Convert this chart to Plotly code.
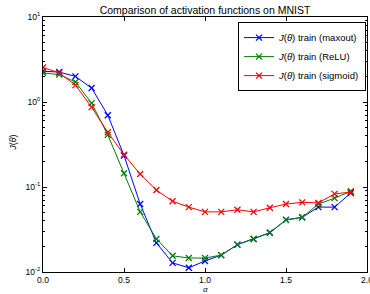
import plotly.graph_objects as go

alpha = [0.0, 0.1, 0.2, 0.3, 0.4, 0.5, 0.6, 0.7, 0.8, 0.9,
         1.0, 1.1, 1.2, 1.3, 1.4, 1.5, 1.6, 1.7, 1.8, 1.9]

j_maxout = [2.3, 2.25, 2.0, 1.46, 0.70, 0.235, 0.063, 0.022, 0.0128, 0.0112,
            0.0135, 0.0158, 0.021, 0.0245, 0.029, 0.041, 0.044, 0.058, 0.058, 0.085]
j_relu = [2.2, 2.1, 1.72, 0.97, 0.41, 0.145, 0.051, 0.0245, 0.0155, 0.0146,
          0.0146, 0.0158, 0.021, 0.0245, 0.029, 0.041, 0.044, 0.063, 0.074, 0.089]
j_sigmoid = [2.55, 2.2, 1.58, 0.87, 0.44, 0.24, 0.142, 0.092, 0.068, 0.058,
             0.051, 0.051, 0.054, 0.051, 0.057, 0.063, 0.066, 0.065, 0.083, 0.087]

series_names = ["<i>J</i>(<i>θ</i>) train (maxout)",
                "<i>J</i>(<i>θ</i>) train (ReLU)",
                "<i>J</i>(<i>θ</i>) train (sigmoid)"]
series_vals = [j_maxout, j_relu, j_sigmoid]
colors = ["#0000ff", "#008000", "#ff0000"]

x_tickvals = [0, 0.5, 1.0, 1.5, 2.0]
x_ticktext = ["0.0", "0.5", "1.0", "1.5", "2.0"]
y_tickvals = [10, 1, 0.1, 0.01]
y_ticktext = ["10<sup>1</sup>", "10<sup>0</sup>", "10<sup>-1</sup>", "10<sup>-2</sup>"]
y_minor = [m * d for d in (0.01, 0.1, 1) for m in range(2, 10)]

fig = go.Figure()
for name, vals, c in zip(series_names, series_vals, colors):
    fig.add_trace(go.Scatter(
        x=alpha, y=vals, name=name, mode="lines+markers",
        line=dict(color=c, width=1),
        marker=dict(symbol="x-thin", size=6, line=dict(color=c, width=1.3), color=c),
    ))

font_family = "Liberation Sans, Arial, sans-serif"
fig.update_layout(
    width=370, height=294,
    margin=dict(l=43, r=3, t=17, b=22, autoexpand=False),
    paper_bgcolor="white", plot_bgcolor="white",
    font=dict(family=font_family, size=10, color="black"),
    title=dict(text="Comparison of activation functions on MNIST",
               xref="paper", x=0.5, xanchor="center",
               yref="container", y=0.978, yanchor="top",
               font=dict(size=10.5, color="black")),
    showlegend=True,
    legend=dict(x=0.997, y=0.98, xanchor="right", yanchor="top",
                bordercolor="black", borderwidth=1, bgcolor="white",
                font=dict(size=9.5), itemwidth=30, tracegroupgap=0),
    xaxis=dict(range=[0, 2], tickvals=x_tickvals, ticktext=x_ticktext,
               ticks="inside", ticklen=4, tickcolor="black", mirror="allticks",
               showline=True, linecolor="black", linewidth=1, showgrid=False,
               zeroline=False, tickfont=dict(size=8.5), ticklabeloverflow="allow",
               automargin=False),
    yaxis=dict(type="log", range=[-2, 1], tickvals=y_tickvals, ticktext=y_ticktext,
               ticks="inside", ticklen=4, tickcolor="black", mirror="allticks",
               showline=True, linecolor="black", linewidth=1, showgrid=False,
               zeroline=False, tickfont=dict(size=8.5), automargin=False,
               minor=dict(tickvals=y_minor, ticks="inside", ticklen=2,
                          tickcolor="black", showgrid=False)),
    annotations=[
        dict(text="<i>α</i>", xref="paper", yref="paper", x=0.5, y=-0.067,
             xanchor="center", yanchor="middle", showarrow=False,
             font=dict(size=8)),
        dict(text="<i>J</i>(<i>θ</i>)", xref="paper", yref="paper", x=-0.093, y=0.506,
             xanchor="center", yanchor="middle", showarrow=False, textangle=-90,
             font=dict(size=9)),
    ],
)

fig.write_html("out.html", config={"displayModeBar": False},
               post_script="document.body.style.margin='0';document.body.style.overflow='hidden';")
